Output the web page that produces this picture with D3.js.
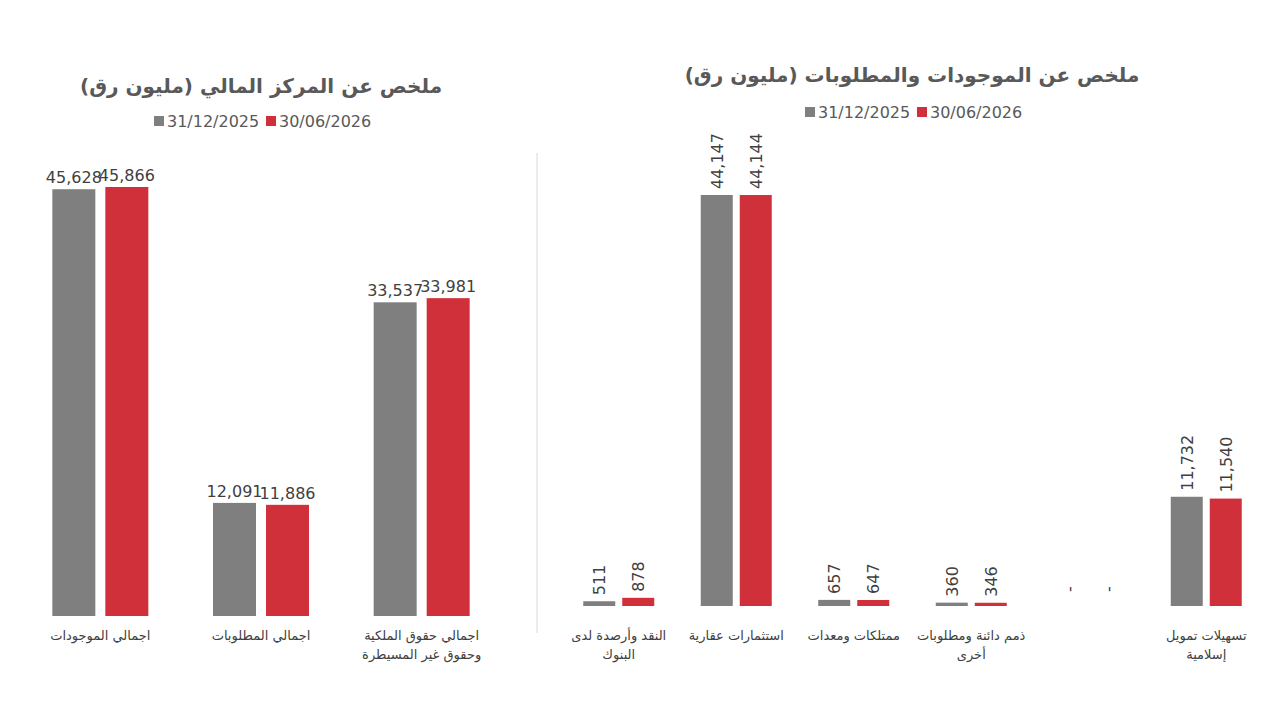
<!DOCTYPE html>
<html><head><meta charset="utf-8">
<script src="https://cdn.jsdelivr.net/npm/d3@7"></script>
<style>body{margin:0;background:#fff}svg{font-family:"DejaVu Sans",sans-serif}</style>
</head><body><svg id="c" width="1280" height="720"></svg>
<script>
const series = ['31/12/2025', '30/06/2026']
const colors = ['#7f7f7f', '#d0303a']
const leftCats = [['اجمالي الموجودات'], ['اجمالي المطلوبات'], ['اجمالي حقوق الملكية', 'وحقوق غير المسيطرة']]
const left2025 = [45628, 12091, 33537]
const left2026 = [45866, 11886, 33981]
const rightCats = [['النقد وأرصدة لدى', 'البنوك'], ['استثمارات عقارية'], ['ممتلكات ومعدات'], ['ذمم دائنة ومطلوبات', 'أخرى'], ['تسهيلات تمويل', 'إسلامية']]
const right2025 = [511, 44147, 657, 360, 0, 11732]
const right2026 = [878, 44144, 647, 346, 0, 11540]
// right chart has 6 slots; the 5th has no label in the source
const rightLabels = [rightCats[0], rightCats[1], rightCats[2], rightCats[3], [], rightCats[4]]

const svg = d3.select('#c')
const fmt = d3.format(',')

function chart(o) {
  const g = svg.append('g')
  const x = d3.scaleBand().domain(o.cats.map((d, i) => i)).range(o.xr).paddingInner(0)
  const y = d3.scaleLinear().domain([0, o.max]).range([o.base, o.top])
  const bw = o.bw, gap = o.gap
  g.append('text').attr('x', o.cx).attr('y', o.titleY).attr('text-anchor', 'middle')
    .attr('font-size', 20).attr('font-weight', 'bold').attr('fill', '#595959').text(o.title)
  // legend
  const lg = g.append('g').attr('transform', `translate(${o.cx - 107},${o.legY})`)
  series.forEach((s, k) => {
    lg.append('rect').attr('x', k * 112).attr('y', -11).attr('width', 10).attr('height', 10).attr('fill', colors[k])
    lg.append('text').attr('x', k * 112 + 13).attr('y', 0).attr('font-size', 16).attr('fill', '#595959').text(s)
  })
  ;[o.a, o.b].forEach((vals, k) => {
    vals.forEach((v, i) => {
      const cx = x(i) + x.bandwidth() / 2
      const bx = k === 0 ? cx - gap / 2 - bw : cx + gap / 2
      g.append('rect').attr('x', bx).attr('y', y(v)).attr('width', bw).attr('height', o.base - y(v)).attr('fill', colors[k])
      const lx = bx + bw / 2, ly = y(v) - 6
      const t = g.append('text').attr('font-size', 16).attr('fill', '#404040')
        .text(v === 0 ? '-' : fmt(v))
      if (o.rotate) t.attr('transform', `translate(${lx + 6},${ly - (v === 0 ? 8 : 0)}) rotate(-90)`)
      else t.attr('x', lx).attr('y', ly).attr('text-anchor', 'middle')
    })
  })
  o.cats.forEach((lines, i) => {
    const cx = x(i) + x.bandwidth() / 2
    lines.forEach((l, j) => g.append('text').attr('x', cx).attr('y', o.labY + j * 19)
      .attr('text-anchor', 'middle').attr('font-size', 13).attr('fill', '#404040').text(l))
  })
}

chart({ cats: leftCats, a: left2025, b: left2026, xr: [20, 502], max: 45866, base: 616, top: 187,
  bw: 43, gap: 10, title: 'ملخص عن المركز المالي (مليون رق)', cx: 261, titleY: 93, legY: 127, labY: 640 })
chart({ cats: rightLabels, a: right2025, b: right2026, xr: [560, 1265], max: 44147, base: 606, top: 195,
  bw: 32, gap: 7, title: 'ملخص عن الموجودات والمطلوبات (مليون رق)', cx: 912, titleY: 82, legY: 118, labY: 640, rotate: true })

svg.append('line').attr('x1', 537).attr('x2', 537).attr('y1', 153).attr('y2', 633).attr('stroke', '#d9d9d9')
</script></body></html>
